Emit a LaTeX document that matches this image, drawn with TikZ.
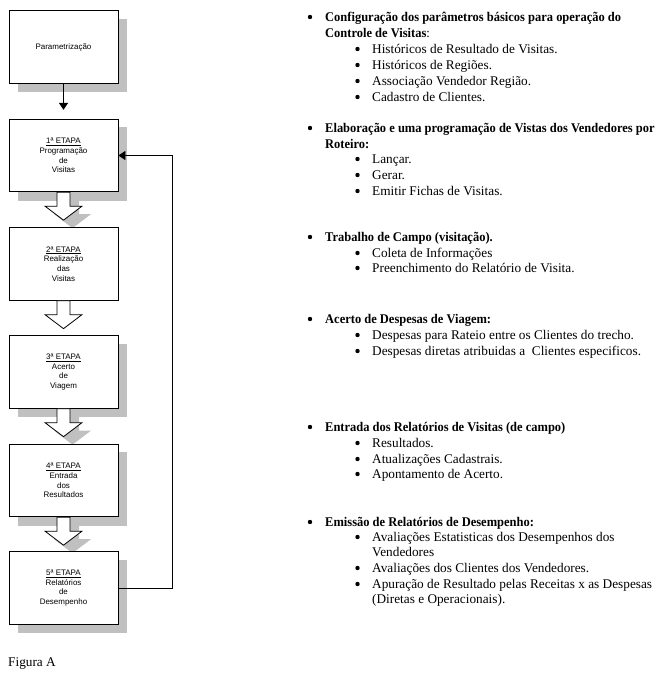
\documentclass[tikz,border=0pt]{standalone}
\usepackage{fontspec}
\setmainfont{Liberation Serif}
\setsansfont{Liberation Sans}
\newfontfamily\hdfont{Liberation Serif}[FakeStretch=0.94]
\usetikzlibrary{arrows.meta,calc,backgrounds}
\definecolor{shadowc}{HTML}{C0C0C0}
\newcommand\blockarrow[4]{%
  \path[#1] ([xshift=#3,yshift=#4]#2.south) -- ++(0,14) -- ++(-12,0) -- ++(18.5,14)
    -- ++(18.5,-14) -- ++(-12,0) -- ++(0,-14) -- cycle;}
\newcommand\boxshadow[1]{%
  \fill[shadowc] ([xshift=9bp,yshift=-8.5bp]#1.south west) rectangle ([xshift=9bp,yshift=-8.5bp]#1.north east);}
\begin{document}
\begin{tikzpicture}[x=1bp,y=-1bp,
  stage/.style={draw=black,line width=0.8bp,fill=white,minimum width=109bp,minimum height=72.5bp,
    align=center,inner sep=0pt,font=\sffamily\fontsize{8}{9.8}\selectfont},
  hd/.style={anchor=base west,inner sep=0pt,font=\hdfont\fontsize{13.33}{16}\selectfont\bfseries},
  it/.style={anchor=base west,inner sep=0pt,font=\rmfamily\fontsize{13.33}{16}\selectfont},
  link/.style={line width=0.8bp,-{Triangle[length=7bp,width=9bp]}}]
\useasboundingbox (0,0) rectangle (671,680);
% boxes
\path (63.5,47) node[stage] (p) {Parametrização};
\path (63.5,155.5) node[stage] (e1) {\underline{1ª ETAPA}\\Programação\\de\\Visitas};
\path (63.5,264) node[stage] (e2) {\underline{2ª ETAPA}\\Realização\\das\\Visitas};
\path (63.5,372) node[stage] (e3) {\underline{3ª ETAPA}\\Acerto\\de\\Viagem};
\path (63.5,480.5) node[stage] (e4) {\underline{4ª ETAPA}\\Entrada\\dos\\Resultados};
\path (63.5,588) node[stage] (e5) {\underline{5ª ETAPA}\\Relatórios\\de\\Desempenho};
% shadows
\begin{scope}[on background layer]
\boxshadow{p}
\boxshadow{e1}
\boxshadow{e3}
\boxshadow{e4}
\boxshadow{e5}
\blockarrow{fill=shadowc}{e1}{2.5bp}{-8bp}
\blockarrow{fill=shadowc}{e3}{2.5bp}{-8bp}
\blockarrow{fill=shadowc}{e4}{2.5bp}{-8bp}
\end{scope}
% block arrows
\blockarrow{draw=black,fill=white,line width=0.8bp}{e1}{-6.5bp}{0bp}
\blockarrow{draw=black,fill=white,line width=0.8bp}{e2}{-6.5bp}{0bp}
\blockarrow{draw=black,fill=white,line width=0.8bp}{e3}{-6.5bp}{0bp}
\blockarrow{draw=black,fill=white,line width=0.8bp}{e4}{-6.5bp}{0bp}
% connectors
\draw[link] (p.south) -- ([yshift=9bp]e1.north);
\draw[link] (e5.east) -- ++(54,0) |- (e1.east);
% caption
\node[it] (fig) at (8,666.5) {Figura A};
% right-hand text
\foreach \y in {21.5,132.5,241.5,323.5,431.5,526.5} \fill (310,\y-4.5) circle (2.2bp);
\foreach \y in {53.5,69.5,85.5,101.5,163.5,179.5,195.5,257.5,272.5,339.5,355.5,447.5,463.5,478.5,541.5,572.5,588.5} \fill (357.5,\y-4.5) circle (2.2bp);
\node[hd] (h1a) at (325,21.5) {Configuração dos parâmetros básicos para operação do};
\node[hd] (h1b) at (325,37.5) {Controle de Visitas\mdseries:};
\node[it] (s11) at (372,53.5) {Históricos de Resultado de Visitas.};
\node[it] (s12) at (372,69.5) {Históricos de Regiões.};
\node[it] (s13) at (372,85.5) {Associação Vendedor Região.};
\node[it] (s14) at (372,101.5) {Cadastro de Clientes.};
\node[hd] (h2a) at (325,132.5) {Elaboração e uma programação de Vistas dos Vendedores por};
\node[hd] (h2b) at (325,148.5) {Roteiro:};
\node[it] (s21) at (372,163.5) {Lançar.};
\node[it] (s22) at (372,179.5) {Gerar.};
\node[it] (s23) at (372,195.5) {Emitir Fichas de Visitas.};
\node[hd] (h3) at (325,241.5) {Trabalho de Campo (visitação).};
\node[it] (s31) at (372,257.5) {Coleta de Informações};
\node[it] (s32) at (372,272.5) {Preenchimento do Relatório de Visita.};
\node[hd] (h4) at (325,323.5) {Acerto de Despesas de Viagem:};
\node[it] (s41) at (372,339.5) {Despesas para Rateio entre os Clientes do trecho.};
\node[it] (s42) at (372,355.5) {Despesas diretas atribuidas a\ \ Clientes especificos.};
\node[hd] (h5) at (325,431.5) {Entrada dos Relatórios de Visitas (de campo)};
\node[it] (s51) at (372,447.5) {Resultados.};
\node[it] (s52) at (372,463.5) {Atualizações Cadastrais.};
\node[it] (s53) at (372,478.5) {Apontamento de Acerto.};
\node[hd] (h6) at (325,526.5) {Emissão de Relatórios de Desempenho:};
\node[it] (s61) at (372,541.5) {Avaliações Estatisticas dos Desempenhos dos};
\node[it] (s61b) at (372,556.5) {Vendedores};
\node[it] (s62) at (372,572.5) {Avaliações dos Clientes dos Vendedores.};
\node[it] (s63) at (372,588.5) {Apuração de Resultado pelas Receitas x as Despesas};
\node[it] (s63b) at (372,603.5) {(Diretas e Operacionais).};
\end{tikzpicture}
\end{document}
